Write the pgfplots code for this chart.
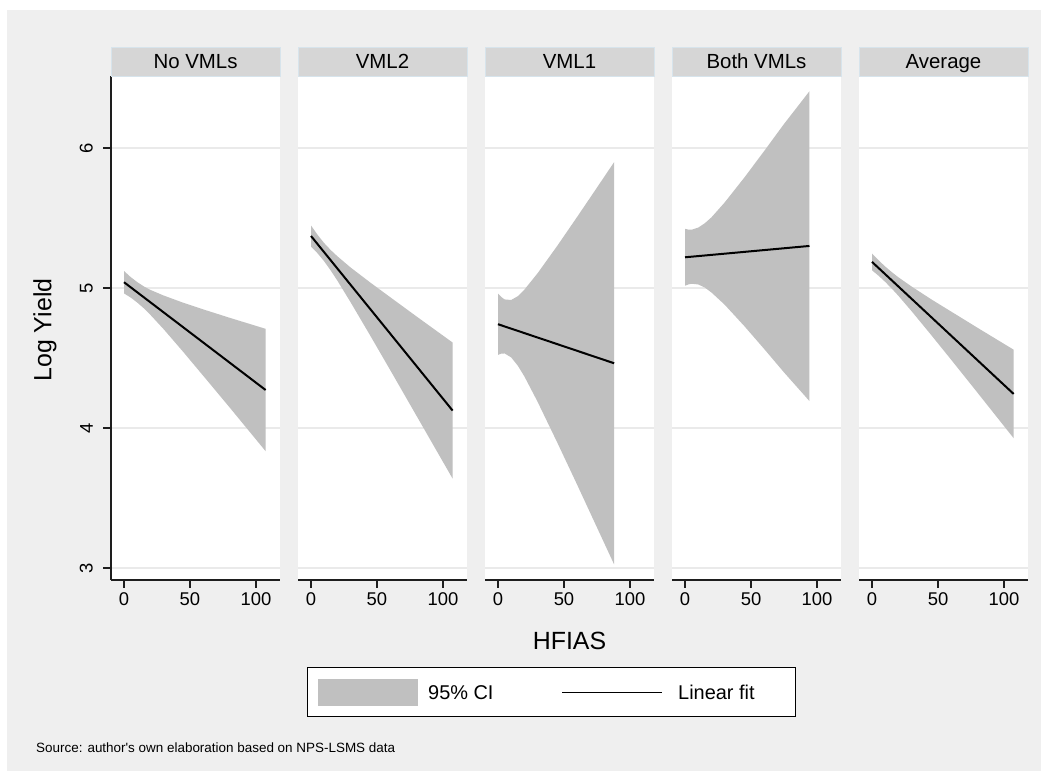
\documentclass[border=0pt]{standalone}
\usepackage{pgfplots}
\pgfplotsset{compat=1.18}
\usepackage{fontspec}
\setmainfont{Liberation Sans}[Ligatures=TeXOff]
\definecolor{bggray}{RGB}{239,239,239}
\definecolor{stripgray}{RGB}{214,214,214}
\definecolor{stripborder}{RGB}{215,228,236}
\definecolor{cigray}{RGB}{192,192,192}
\definecolor{gridgray}{RGB}{234,234,234}
\definecolor{axisdark}{RGB}{30,30,30}

\pgfplotsset{
  panel/.style={
    scale only axis, width=169bp, height=504bp,
    anchor=south west,
    xmin=-9.85, xmax=118.2, ymin=2.914, ymax=6.514,
    axis x line*=bottom, axis y line*=left,
    axis background/.style={fill=white},
    xtick={0,50,100}, ytick={3,4,5,6},
    ymajorgrids, grid style={gridgray, line width=1.6bp},
    tick align=outside, major tick length=8bp,
    every tick/.style={axisdark, line width=1.2bp},
    axis line style={axisdark, line width=1.4bp},
    /pgf/number format/assume math mode=true,
    tick label style={font=\fontsize{18.5}{20}\selectfont},
    xticklabel style={inner sep=0pt, yshift=-4.5bp},
    clip=false,
  },
  nolefty/.style={
    y axis line style={draw=none},
    ytick style={draw=none},
    yticklabels={},
  },
  ci/.style={fill=cigray, draw=none},
  fit/.style={black, line width=2bp},
}

\begin{document}
\begin{tikzpicture}[x=1bp,y=1bp]
\path[use as bounding box] (0,0) rectangle (1048,771);
\fill[white] (0,0) rectangle (1048,771);
\fill[bggray] (7,0) rectangle (1041,761);

% Panel 1: No VMLs
\begin{axis}[panel, at={(111bp,191bp)},
  yticklabel style={xshift=-10bp, rotate=90, anchor=south, inner sep=0pt}]
\addplot[ci] coordinates {(0,5.121)(5,5.078)(10,5.042)(15,5.011)(20,4.986)(30,4.946)(45,4.894)(60,4.847)(80,4.787)(107.3,4.708)
 (107.3,3.834)(80,4.147)(60,4.373)(45,4.542)(30,4.706)(20,4.808)(15,4.855)(10,4.896)(5,4.932)(0,4.961)} -- cycle;
\addplot[fit] coordinates {(0,5.041)(107.3,4.271)};
\end{axis}

% Panel 2: VML2
\begin{axis}[panel, nolefty, at={(298bp,191bp)}]
\addplot[ci] coordinates {(0,5.446)(5,5.379)(10,5.320)(15,5.270)(20,5.226)(30,5.146)(45,5.038)(60,4.934)(80,4.796)(107.3,4.610)
 (107.3,3.638)(80,4.086)(60,4.414)(45,4.658)(30,4.898)(20,5.052)(15,5.124)(10,5.190)(5,5.247)(0,5.296)} -- cycle;
\addplot[fit] coordinates {(0,5.371)(107.3,4.124)};
\end{axis}

% Panel 3: VML1
\begin{axis}[panel, nolefty, at={(485bp,191bp)}]
\addplot[ci] coordinates {(0,4.960)(2.5,4.935)(5,4.918)(10,4.914)(15,4.941)(20,4.988)(30,5.105)(45,5.302)(60,5.508)(75,5.717)(88,5.899)
 (88,3.025)(75,3.289)(60,3.594)(45,3.894)(30,4.187)(20,4.368)(15,4.445)(10,4.504)(5,4.532)(2.5,4.531)(0,4.522)} -- cycle;
\addplot[fit] coordinates {(0,4.741)(88,4.462)};
\end{axis}

% Panel 4: Both VMLs
\begin{axis}[panel, nolefty, at={(672bp,191bp)}]
\addplot[ci] coordinates {(0,5.422)(2.5,5.417)(5,5.416)(10,5.431)(15,5.462)(20,5.504)(30,5.610)(45,5.789)(60,5.978)(75,6.171)(94.3,6.405)
 (94.3,4.192)(75,4.397)(60,4.564)(45,4.727)(30,4.881)(20,4.968)(15,5.003)(10,5.025)(5,5.030)(2.5,5.025)(0,5.016)} -- cycle;
\addplot[fit] coordinates {(0,5.219)(94.3,5.300)};
\end{axis}

% Panel 5: Average
\begin{axis}[panel, nolefty, at={(859bp,191bp)}]
\addplot[ci] coordinates {(0,5.246)(5,5.197)(10,5.153)(15,5.113)(20,5.076)(30,5.010)(45,4.918)(60,4.831)(80,4.715)(107.3,4.559)
 (107.3,3.927)(80,4.251)(60,4.487)(45,4.662)(30,4.834)(20,4.944)(15,4.995)(10,5.043)(5,5.087)(0,5.126)} -- cycle;
\addplot[fit] coordinates {(0,5.186)(107.3,4.243)};
\end{axis}

% strip headers
\foreach \x/\t in {111/No VMLs, 298/VML2, 485/VML1, 672/Both VMLs, 859/Average}{
  \filldraw[fill=stripgray, draw=stripborder, line width=0.8bp] (\x,694.5) rectangle ++(169,29);
  \node[font=\fontsize{20.5}{22}\selectfont, inner sep=0pt, anchor=base] at (\x+84.5,702) {\t};
}

% axis titles
\node[font=\fontsize{25}{27}\selectfont, inner sep=0pt] at (569.5,130) {HFIAS};
\node[font=\fontsize{25}{27}\selectfont, inner sep=0pt, rotate=90] at (45,441) {Log Yield};

% legend
\filldraw[fill=white, draw=black, line width=1bp] (307,54) rectangle (795,103);
\fill[cigray] (318,65) rectangle (418,92);
\node[font=\fontsize{20}{22}\selectfont, anchor=west, inner sep=0pt] at (428,78.5) {95\% CI};
\draw[black, line width=1.8bp] (562,78.5) -- (662,78.5);
\node[font=\fontsize{20}{22}\selectfont, anchor=west, inner sep=0pt] at (678,78.5) {Linear fit};

% source note
\node[font=\fontsize{13.5}{15}\selectfont, anchor=west, inner sep=0pt] at (36,23) {Source: author's own elaboration based on NPS-LSMS data};
\end{tikzpicture}
\end{document}
